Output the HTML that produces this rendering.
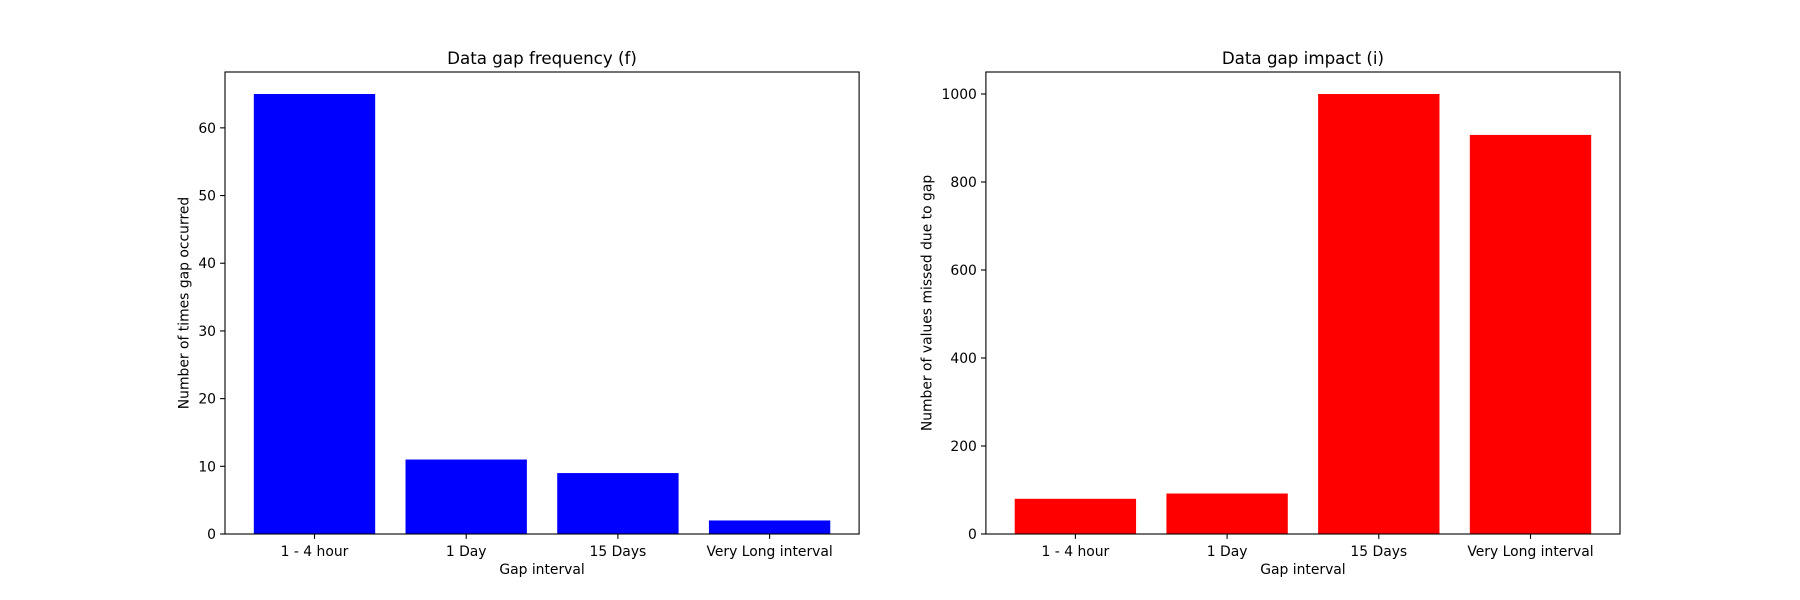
<!DOCTYPE html>
<html><head><meta charset="utf-8"><style>
html,body{margin:0;padding:0;background:#fff;}
svg{display:block;font-family:"DejaVu Sans","Liberation Sans",sans-serif;}
</style></head><body>
<svg id="fig" width="1800" height="600" viewBox="0 0 1800 600"></svg>
<script>
const categories = ["1 - 4 hour", "1 Day", "15 Days", "Very Long interval"];
const freqValues = [65, 11, 9, 2];
const impactValues = [80, 92, 1000, 907];
const freqTicks = [0, 10, 20, 30, 40, 50, 60];
const impactTicks = [0, 200, 400, 600, 800, 1000];

const NS = "http://www.w3.org/2000/svg";
const svg = document.getElementById("fig");
function mk(tag, attrs, parent) {
  const e = document.createElementNS(NS, tag);
  for (const k in attrs) e.setAttribute(k, attrs[k]);
  (parent || svg).appendChild(e);
  return e;
}
function panel(key, x0, x1, y0, y1, values, ticks, color, title, ylabel) {
  const g = mk("g", {});
  
  
  const ymax = Math.max(...values) * 1.05;
  const xmin = -0.59, xmax = categories.length - 1 + 0.59;
  const sx = v => x0 + (v - xmin) / (xmax - xmin) * (x1 - x0);
  const sy = v => y1 - v / ymax * (y1 - y0);
  values.forEach((v, i) => {
    const r = mk("rect", {x: sx(i - 0.4), y: sy(v), width: sx(i + 0.4) - sx(i - 0.4), height: sy(0) - sy(v), fill: color}, g);
    
    
  });
  const frame = mk("rect", {x: x0, y: y0, width: x1 - x0, height: y1 - y0, fill: "none", stroke: "#000", "stroke-width": 1.1}, g);
  
  
  ticks.forEach(t => {
    const y = sy(t);
    mk("line", {x1: x0 - 4.9, x2: x0, y1: y, y2: y, stroke: "#000", "stroke-width": 1.1}, g);
    const tx = mk("text", {x: x0 - 9, y: y + 5, "text-anchor": "end", "font-size": 13.9}, g);
    tx.textContent = t;
    
    
  });
  categories.forEach((c, i) => {
    const x = sx(i);
    mk("line", {x1: x, x2: x, y1: y1, y2: y1 + 4.9, stroke: "#000", "stroke-width": 1.1}, g);
    const tx = mk("text", {x: x, y: y1 + 22, "text-anchor": "middle", "font-size": 13.9}, g);
    tx.textContent = c;
    
    
  });
  const xl = mk("text", {x: (x0 + x1) / 2, y: y1 + 40, "text-anchor": "middle", "font-size": 13.9}, g);
  xl.textContent = "Gap interval";
  
  
  const lblX = x0 - (String(Math.max(...ticks)).length * 8.8 + 19);
  const yl = mk("text", {x: 0, y: 0, "text-anchor": "middle", "font-size": 13.9, transform: `translate(${lblX},${(y0 + y1) / 2}) rotate(-90)`}, g);
  yl.textContent = ylabel;
  
  
  const tt = mk("text", {x: (x0 + x1) / 2, y: y0 - 8, "text-anchor": "middle", "font-size": 16.7}, g);
  tt.textContent = title;
  
  
}
panel("frequency", 225, 859.1, 72, 534, freqValues, freqTicks, "#0000ff", "Data gap frequency (f)", "Number of times gap occurred");
panel("impact", 985.9, 1620, 72, 534, impactValues, impactTicks, "#ff0000", "Data gap impact (i)", "Number of values missed due to gap");
</script>
</body></html>
